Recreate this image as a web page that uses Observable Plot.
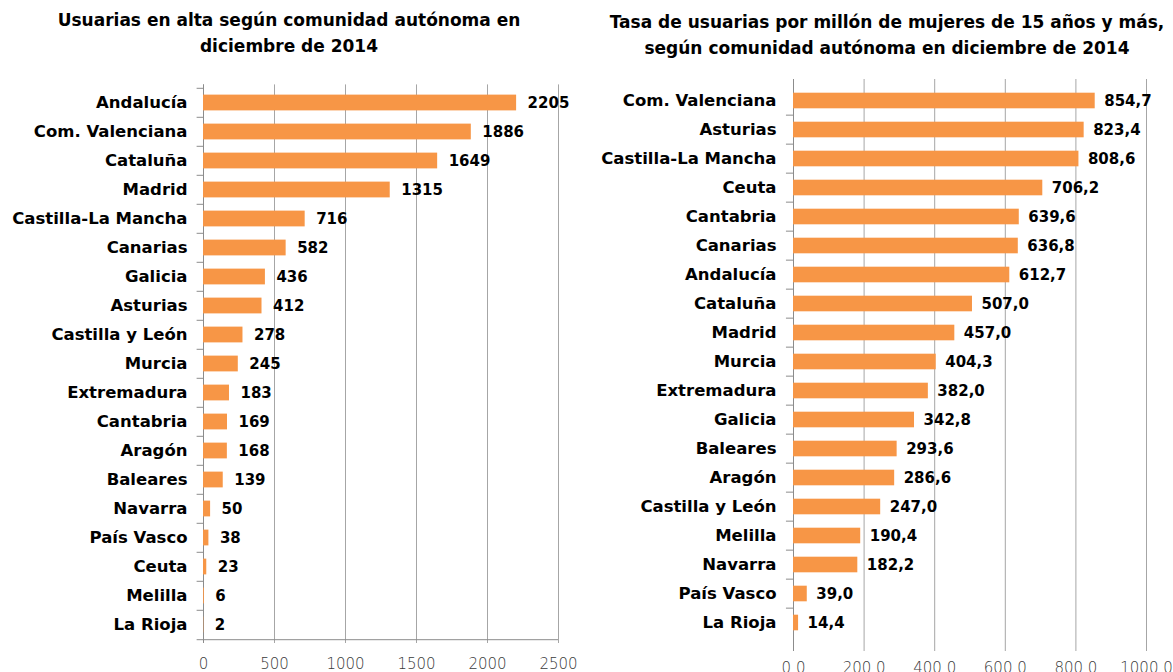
<!DOCTYPE html>
<html>
<head>
<meta charset="utf-8">
<script src="https://cdn.jsdelivr.net/npm/d3@7"></script>
<script src="https://cdn.jsdelivr.net/npm/@observablehq/plot@0.6"></script>
<style>
  html, body { margin: 0; padding: 0; background: #fff; }
  #root { position: relative; width: 1173px; height: 672px; overflow: hidden; font-family: "DejaVu Sans", sans-serif; }
  .title { position: absolute; text-align: center; font-weight: bold; font-size: 17px; line-height: 26px; color: #000; white-space: nowrap; transform: translateX(-50%); }
  .panel { position: absolute; top: 70px; line-height: 0; }
  .panel svg { display: block; }
</style>
</head>
<body>
<div id="root">
  <div class="title" style="left:289px; top:7px;">Usuarias en alta según comunidad autónoma en<br>diciembre de 2014</div>
  <div class="title" style="left:887px; top:9px;">Tasa de usuarias por millón de mujeres de 15 años y más,<br>según comunidad autónoma en diciembre de 2014</div>
  <div id="left" class="panel" style="left:0px; width:590px;"></div>
  <div id="right" class="panel" style="left:590px; width:583px;"></div>
</div>
<script>
const leftCats = ["Andalucía","Com. Valenciana","Cataluña","Madrid","Castilla-La Mancha","Canarias","Galicia","Asturias","Castilla y León","Murcia","Extremadura","Cantabria","Aragón","Baleares","Navarra","País Vasco","Ceuta","Melilla","La Rioja"];
const leftValues = [2205,1886,1649,1315,716,582,436,412,278,245,183,169,168,139,50,38,23,6,2];
const leftTicks = [0,500,1000,1500,2000,2500];

const rightCats = ["Com. Valenciana","Asturias","Castilla-La Mancha","Ceuta","Cantabria","Canarias","Andalucía","Cataluña","Madrid","Murcia","Extremadura","Galicia","Baleares","Aragón","Castilla y León","Melilla","Navarra","País Vasco","La Rioja"];
const rightValues = [854.7,823.4,808.6,706.2,639.6,636.8,612.7,507.0,457.0,404.3,382.0,342.8,293.6,286.6,247.0,190.4,182.2,39.0,14.4];
const rightTicks = [0,200,400,600,800,1000];

const BAR = "#F79646";
const GRID = "#a6a6a6";
const AXIS = "#8c8c8c";
const GAP = 0.45; // fraction of each row left empty

const leftData = leftCats.map((c, i) => ({c, v: leftValues[i]}));
const rightData = rightCats.map((c, i) => ({c, v: rightValues[i]}));

// Left panel
{
  const W = 590, H = 602, mt = 14.4, mb = 29;
  const step = (H - mt - mb) / leftCats.length;
  const ins = step * GAP / 2;
  const chart = Plot.plot({
    width: W, height: H,
    marginLeft: 203, marginRight: 32, marginTop: mt, marginBottom: mb,
    style: {fontFamily: "DejaVu Sans, sans-serif", overflow: "visible", background: "transparent", color: "#000"},
    x: {domain: [0, 2500], axis: null},
    y: {domain: leftCats, padding: 0, axis: null},
    marks: [
      Plot.gridX({ticks: leftTicks, stroke: GRID, strokeOpacity: 1, strokeWidth: 1}),
      Plot.tickX([0], {x: d => d, y: leftCats[leftCats.length - 1], dy: 4, stroke: AXIS}),
      Plot.ruleX([0], {stroke: AXIS}),
      Plot.ruleY(leftCats, {y: d => d, dy: -step / 2, x1: -45, x2: 0, stroke: AXIS}),
      Plot.ruleY([leftCats[leftCats.length - 1]], {y: d => d, dy: step / 2, x1: -45, x2: 2500, stroke: AXIS}),
      Plot.axisX({ticks: leftTicks, label: null, tickSize: 0, tickPadding: 15, fontSize: 15, fill: "#3a3a3a", tickFormat: d => String(d), fontWeight: 300}),
      Plot.barX(leftData, {x: "v", y: "c", fill: BAR, insetTop: ins, insetBottom: ins}),
      Plot.text(leftData, {x: "v", y: "c", text: d => String(d.v), textAnchor: "start", dx: 11, fontSize: 15, fontWeight: "bold", fill: "#000"}),
      Plot.axisY({label: null, tickSize: 0, tickPadding: 16, fontSize: 16.5, fontWeight: "bold", fill: "#000"})
    ]
  });
  document.getElementById("left").appendChild(chart);
}

// Right panel
{
  const W = 583, H = 602, mt = 9, mb = 21, inset = 7.4;
  const step = (H - mt - mb - inset) / rightCats.length;
  const ins = step * GAP / 2;
  const fmt = d => d3.format(".1f")(d).replace(".", ",");
  const chart = Plot.plot({
    width: W, height: H,
    marginLeft: 203, marginRight: 27, marginTop: mt, marginBottom: mb,
    style: {fontFamily: "DejaVu Sans, sans-serif", overflow: "visible", background: "transparent", color: "#000"},
    x: {domain: [0, 1000], axis: null},
    y: {domain: rightCats, padding: 0, axis: null, insetBottom: inset},
    marks: [
      Plot.gridX({ticks: rightTicks, stroke: GRID, strokeOpacity: 1, strokeWidth: 1}),
      Plot.ruleX([0], {stroke: AXIS}),
      Plot.ruleY(rightCats.slice(1), {y: d => d, dy: -step / 2, x1: -20, x2: 0, stroke: AXIS}),
      Plot.axisX({ticks: rightTicks, label: null, tickSize: 0, tickPadding: 11, fontSize: 15, fill: "#3a3a3a", tickFormat: d => d3.format(".1f")(d), fontWeight: 300}),
      Plot.barX(rightData, {x: "v", y: "c", fill: BAR, insetTop: ins, insetBottom: ins}),
      Plot.text(rightData, {x: "v", y: "c", text: d => fmt(d.v), textAnchor: "start", dx: 9, fontSize: 15, fontWeight: "bold", fill: "#000"}),
      Plot.axisY({label: null, tickSize: 0, tickPadding: 17, fontSize: 16.5, fontWeight: "bold", fill: "#000"})
    ]
  });
  document.getElementById("right").appendChild(chart);
}
</script>
</body>
</html>
